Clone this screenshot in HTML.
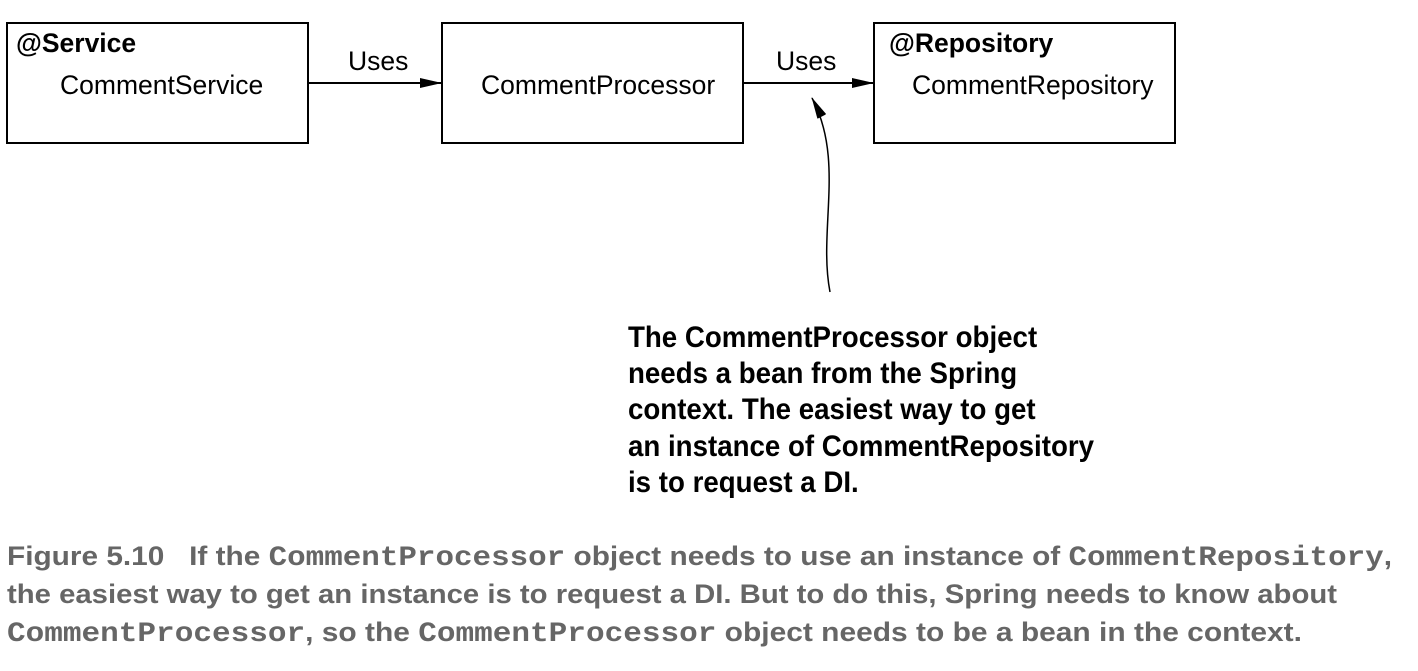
<!DOCTYPE html>
<html><head><meta charset="utf-8"><style>
body{margin:0;background:#fff;width:1418px;height:666px;overflow:hidden}
.n{font-family:"Liberation Sans",sans-serif;font-weight:bold}
.m{font-family:"Liberation Mono",monospace;font-weight:bold}
</style></head><body>
<svg width="1418" height="666" xmlns="http://www.w3.org/2000/svg">
<defs><marker id="a" markerWidth="22" markerHeight="10" refX="21" refY="5" orient="auto" markerUnits="userSpaceOnUse"><path d="M0,0L22,5L0,10z" fill="#000"/></marker></defs>
<g fill="#fff" stroke="#000" stroke-width="2">
<rect x="7" y="23" width="301" height="120"/>
<rect x="442" y="23" width="301" height="120"/>
<rect x="874" y="23" width="301" height="120"/>
</g>
<g stroke="#000" stroke-width="2" fill="none">
<line x1="308" y1="83" x2="441" y2="83" marker-end="url(#a)"/>
<line x1="743" y1="83" x2="873" y2="83" marker-end="url(#a)"/>
<path d="M830,292 C818,230 845,160 812,98" marker-end="url(#a)" stroke-width="1.5"/>
</g>
<g font-family="Liberation Sans, sans-serif" font-size="26.5" fill="#000">
<text x="16" y="52" font-weight="bold">@Service</text>
<text x="60" y="94">CommentService</text>
<text x="348" y="70">Uses</text>
<text x="481" y="94">CommentProcessor</text>
<text x="776" y="70">Uses</text>
<text x="889" y="52" font-weight="bold">@Repository</text>
<text x="912" y="94">CommentRepository</text>
</g>
<g class="n" font-size="30" fill="#000" transform="translate(628,0) scale(0.923,1) translate(-628,0)">
<text x="628" y="347">The CommentProcessor object</text>
<text x="628" y="383">needs a bean from the Spring</text>
<text x="628" y="419">context. The easiest way to get</text>
<text x="628" y="456">an instance of CommentRepository</text>
<text x="628" y="492">is to request a DI.</text>
</g>
<g font-size="27" fill="#666">
<text x="7" y="565" textLength="1385" lengthAdjust="spacingAndGlyphs"><tspan class="n">Figure 5.10&#160;&#160;&#160;If the </tspan><tspan class="m" font-size="28">CommentProcessor</tspan><tspan class="n"> object needs to use an instance of </tspan><tspan class="m" font-size="28">CommentRepository</tspan><tspan class="n">,</tspan></text>
<text x="7" y="603" class="n" textLength="1330" lengthAdjust="spacingAndGlyphs">the easiest way to get an instance is to request a DI. But to do this, Spring needs to know about</text>
<text x="7" y="641" textLength="1295" lengthAdjust="spacingAndGlyphs"><tspan class="m" font-size="28">CommentProcessor</tspan><tspan class="n">, so the </tspan><tspan class="m" font-size="28">CommentProcessor</tspan><tspan class="n"> object needs to be a bean in the context.</tspan></text>
</g>
</svg>
</body></html>
